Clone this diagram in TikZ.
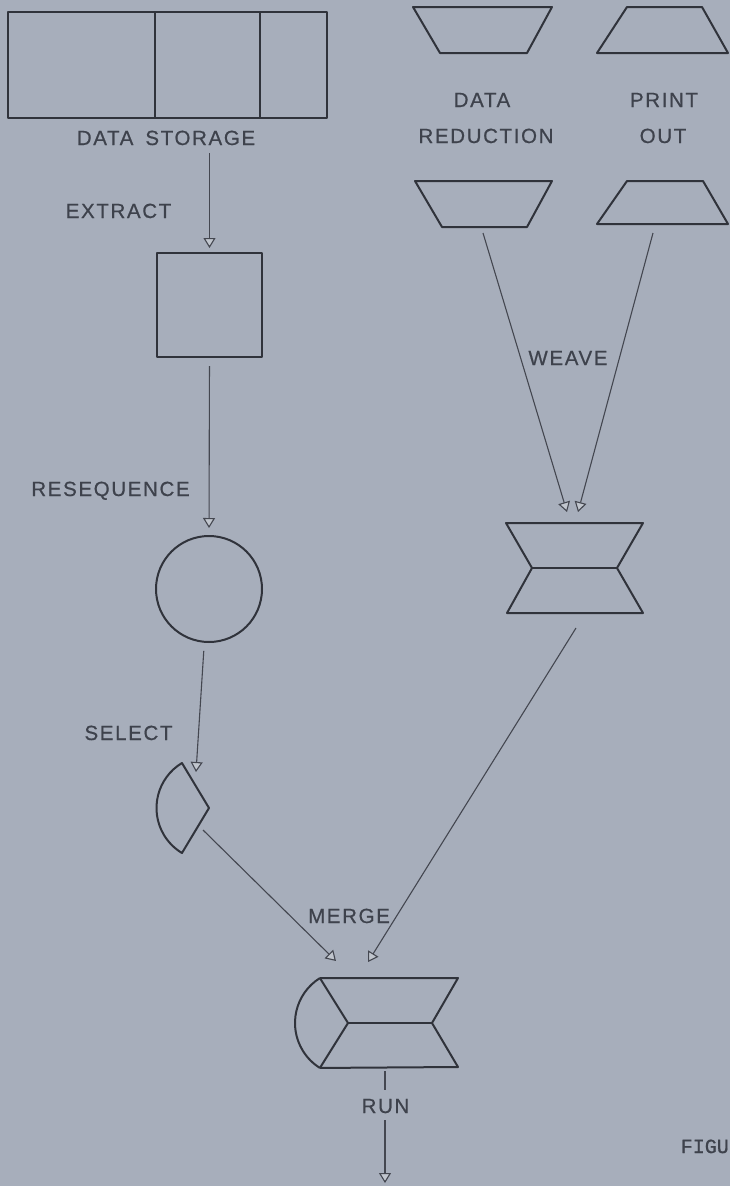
\documentclass[tikz,border=0pt]{standalone}
\usepackage{fontspec}
\setmainfont{Liberation Sans}
\newfontfamily\lettering[LetterSpace=8,FakeBold=0.6]{Liberation Sans}
\newfontfamily\typer[FakeBold=1]{Liberation Mono}
\usetikzlibrary{arrows.meta,calc}

\definecolor{paper}{RGB}{167,174,187}
\definecolor{ink}{RGB}{48,51,59}
\definecolor{wire}{RGB}{68,71,80}
\definecolor{lettercol}{RGB}{62,66,76}
\definecolor{tipfill}{RGB}{192,197,205}

\begin{document}
\begin{tikzpicture}[x=1pt,y=-1pt,
  outline/.style={draw=ink, line width=2pt, line join=round},
  box/.style={outline, rectangle, inner sep=0pt},
  conn/.style={draw=wire, line width=1.1pt,
    -{Triangle[length=10pt,width=12pt,fill=tipfill]}},
  plain/.style={draw=wire, line width=1.1pt},
  lbl/.style={anchor=base, inner sep=0pt, text=lettercol,
    font=\lettering\fontsize{20.5}{20.5}\selectfont},
]
% sheet
\fill[paper] (0,0) rectangle (730,1186);
\useasboundingbox (0,0) rectangle (730,1186);

% ---------- left column: storage, extract, resequence, select ----------
\node[box, minimum width=319pt, minimum height=106pt] (store) at (167.5,65) {};
\draw[outline] ($(store.north west)+(148,0)$) -- ($(store.south west)+(148,0)$);
\draw[outline] ($(store.north west)+(253,0)$) -- ($(store.south west)+(253,0)$);
\node[lbl] (storelbl) at (166,145) {DATA\hspace{12pt}STORAGE};

\node[lbl] (extractlbl) at (118.5,218) {EXTRACT};
\node[box, minimum width=105pt, minimum height=104pt] (sq) at (209.5,305) {};

\node[lbl] (reseqlbl) at (110.5,496) {RESEQUENCE};
\node[outline, circle, inner sep=0pt, minimum size=106pt] (circ) at (209,589) {};

\node[lbl] (selectlbl) at (128.5,740) {SELECT};
% selection sector
\coordinate (selc) at (209,808);
\draw[outline] (selc) -- ++(239:52.5) arc[start angle=239, end angle=121, radius=52.5] -- cycle;
\coordinate (selin) at (196,772);
\coordinate (selout) at (203,830);

% ---------- right column: reduction, print out, weave ----------
\draw[outline] (413,7) -- (552,7) -- (527,53) -- (440,53) -- cycle;
\draw[outline] (627,7) -- (702,7) -- (728,53) -- (597,53) -- cycle;
\node[lbl] (datalbl) at (482,107) {DATA};
\node[lbl] (redlbl) at (486,143) {REDUCTION};
\node[lbl] (printlbl) at (664,107) {PRINT};
\node[lbl] (outlbl) at (663,143) {OUT};

\draw[outline] (415,181) -- (552,181) -- (527,227) -- (442,227) -- cycle;
\draw[outline] (627,181) -- (703,181) -- (728,224) -- (597,224) -- cycle;
\coordinate (redout) at (483,233);
\coordinate (printout) at (653,233);

\node[lbl] (weavelbl) at (568,365) {WEAVE};

% weave (hourglass)
\draw[outline] (506,523) -- (643,523) -- (617,568) -- (643,613) -- (507,613) -- (532,568) -- cycle;
\draw[outline] (532,568) -- (617,568);
\coordinate (weavein1) at (567,512);
\coordinate (weavein2) at (578,512);
\coordinate (weaveout) at (576,628);

% ---------- merge ----------
\node[lbl] (mergelbl) at (349,923) {MERGE};
\coordinate (mc) at (348,1023);
\draw[outline] (mc) ++(238:53) coordinate (mtl)
  arc[start angle=238, end angle=122, radius=53] coordinate (mbl);
\draw[outline] (mtl) -- (mc) -- (mbl);
\draw[outline] (mtl) -- (458,978) -- (432,1023) -- (458,1067) -- (mbl);
\draw[outline] (mc) -- (432,1023);
\coordinate (mergein1) at (336,961);
\coordinate (mergein2) at (368,962);
\coordinate (mergeout) at (385,1069);

\node[lbl] (runlbl) at (385.5,1113) {RUN};
\coordinate (runend) at (385,1183);

\node[anchor=base east, inner sep=0pt, text=lettercol,
  font=\typer\fontsize{20}{20}\selectfont] (figlbl) at (729,1153) {FIGU};

% ---------- connectors ----------
\draw[conn, shorten <=8pt, shorten >=4pt] (storelbl.south -| sq.north) -- (sq.north);
\draw[conn, shorten <=8pt, shorten >=7pt] (sq.south) -- (circ.north);
\draw[conn, shorten <=8pt] (circ.265) -- (selin);
\draw[conn] (selout) -- (mergein1);
\draw[conn] (redout) -- (weavein1);
\draw[conn] (printout) -- (weavein2);
\draw[conn] (weaveout) -- (mergein2);
\draw[plain, shorten <=2pt, shorten >=9pt] (mergeout) -- (runlbl.north -| mergeout);
\draw[conn, shorten <=7pt] (runlbl.south -| mergeout) -- (runend);
\end{tikzpicture}
\end{document}
